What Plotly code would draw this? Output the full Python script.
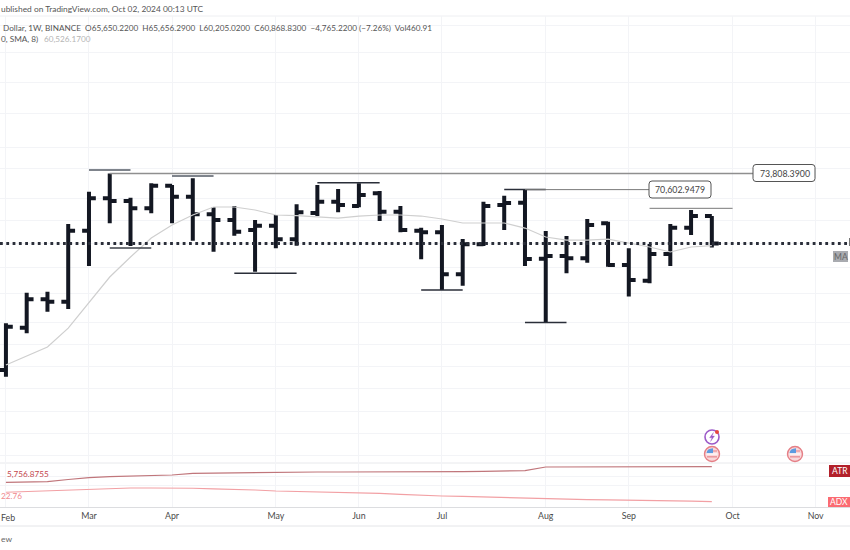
import math
import pandas as pd
import plotly.graph_objects as go

# ---- data ----
week_dates = [d.strftime("%Y-%m-%d") for d in pd.date_range("2024-01-29", periods=37, freq="7D")]
bar_dates = week_dates[:35]

opens = [42950, 48260, 52200, 51850, 63050, 68930, 68420, 67060, 71370, 69240,
         65960, 64930, 63170, 63920, 61570, 66200, 68290, 67500, 69890, 66440,
         63050, 62770, 55910, 60730, 67670, 68100, 58360, 58800, 58430, 64350,
         57360, 54930, 59130, 63570, 65650.22]
highs = [48850, 53150, 53300, 64220, 70200, 73808.39, 69050, 71840, 71510, 72830,
         67240, 67490, 64930, 65835, 67800, 71510, 70720, 71840, 70330, 67490,
         63570, 64050, 61640, 68290, 69430, 70602.95, 62995, 62135, 65110, 64630,
         60060, 60780, 64220, 66745, 65656.29]
lows = [42170, 47530, 50440, 50810, 57200, 64350, 60450, 66140, 64350, 61330,
        59500, 62190, 56310, 60060, 60500, 65650, 66330, 67240, 64750, 62770,
        58270, 53545, 54185, 60450, 63170, 57200, 49000, 56070, 57730, 57090,
        52590, 54550, 57200, 62310, 60205.02]
closes = [48400, 52190, 51850, 63050, 68930, 68420, 67060, 71370, 69240, 65960,
          64930, 62870, 63920, 61570, 66330, 68290, 67670, 69560, 66440, 63170,
          62770, 55910, 60730, 67490, 68050, 58315, 58800, 58430, 64050, 57360,
          55040, 59130, 63570, 65650, 60868.83]
sma8 = [43550, 44645, 45770, 48220, 51800, 55500, 58640, 61790, 64050, 65835,
        67300, 67300, 66745, 65835, 65710, 65480, 65290, 65650, 65835, 65835,
        65650, 65110, 64400, 64400, 64400, 63510, 61970, 61450, 61450, 61620,
        60950, 60280, 59460, 60280, 60526.17]
atr = [3760, 3800, 3837, 4119, 4349, 4477, 4567, 4631, 4695, 4912,
       4951, 4989, 5015, 5040, 5053, 5079, 5079, 5079, 5079, 5053,
       5040, 5079, 5117, 5168, 5207, 5245, 5719, 5719, 5757, 5757,
       5783, 5783, 5783, 5770, 5756.88]
adx = [36.9, 38.1, 39.3, 40.3, 41.4, 42.3, 43.3, 43.3, 43.3, 42.9,
       42.1, 41.4, 40.3, 38.8, 38.1, 37.5, 36.9, 36.3, 35.1, 33.6,
       32.1, 31.3, 30.6, 29.8, 28.8, 27.9, 26.8, 26.4, 26.0, 25.6,
       25.3, 24.7, 24.1, 23.5, 22.76]

# horizontal drawings: (price, first week index, last week index, width, colour)
level_prices = [74520, 73808.39, 73300, 60120, 56070, 71960, 70602.95, 70602.95, 53545, 48950, 67060]
level_starts = [4, 5, 8, 5, 11, 15, 24, 25, 20, 25, 31]
level_ends = [6, 36, 10, 7, 14, 18, 26, 31, 22, 27, 35]
level_widths = [1.5, 1.5, 1.5, 1.5, 1.5, 1.5, 1.5, 1, 1.5, 1.5, 1]
level_colors = ["#555b66", "#8f8f8f", "#555b66", "#3c4048", "#2a2e39", "#2a2e39",
                "#2a2e39", "#7a7a7a", "#2a2e39", "#2a2e39", "#7a7a7a"]

month_labels = ["", "Mar", "Apr", "May", "Jun", "Jul", "Aug", "Sep", "Oct", "Nov"]
month_weeks = [0, 4, 8, 13, 17, 21, 26, 30, 35, 39]
month_dates = [d.strftime("%Y-%m-%d") for d in
               pd.Timestamp("2024-01-29") + pd.to_timedelta([w * 7 for w in month_weeks], unit="D")]

grid_prices = [110800, 103140, 94960, 87190, 79390, 74730, 68900, 64930, 60950, 57050,
               53110, 49030, 46150, 43390, 40790, 38270, 36110, 33990]
atr_grid = [4567, 3415]

last_close = closes[-1]
x_span = ["2024-01-27", "2024-11-08 14:00"]

# ---- layout helpers (pixels of the 850x550 page) ----
W, H = 850, 550
def px(x): return x / W
def py(y): return 1 - y / H

def rounded(x0, y0, x1, y1, r):
    a, b, c, d = px(x0), py(y0), px(x1), py(y1)
    rx, ry = r / W, r / H
    return (f"M {a+rx} {b} L {c-rx} {b} Q {c} {b} {c} {b-ry} L {c} {d+ry} Q {c} {d} {c-rx} {d} "
            f"L {a+rx} {d} Q {a} {d} {a} {d+ry} L {a} {b-ry} Q {a} {b} {a+rx} {b} Z")

FONT = "Lato, Open Sans, sans-serif"
fig = go.Figure()

fig.add_trace(go.Scatter(x=bar_dates, y=sma8, mode="lines", xaxis="x", yaxis="y",
                         line=dict(color="#cfcfcf", width=1.2), showlegend=False, hoverinfo="skip"))

# last-close dotted line
fig.add_trace(go.Scatter(x=x_span, y=[last_close, last_close], mode="lines", xaxis="x", yaxis="y",
                         line=dict(color="#2a2e39", width=2.8, dash="2.8px,3.5px"),
                         showlegend=False, hoverinfo="skip"))

for p, s, e, w, c in zip(level_prices, level_starts, level_ends, level_widths, level_colors):
    fig.add_trace(go.Scatter(x=[week_dates[s], week_dates[e]], y=[p, p],
                             mode="lines", xaxis="x", yaxis="y", line=dict(color=c, width=w),
                             showlegend=False, hoverinfo="skip"))

fig.add_trace(go.Ohlc(x=bar_dates, open=opens, high=highs, low=lows, close=closes,
                      xaxis="x", yaxis="y", tickwidth=0.33,
                      increasing=dict(line=dict(color="#131722", width=4)),
                      decreasing=dict(line=dict(color="#131722", width=4)),
                      showlegend=False))

fig.add_trace(go.Scatter(x=bar_dates, y=atr, mode="lines", xaxis="x", yaxis="y2",
                         line=dict(color="#c0767b", width=1.2), showlegend=False, hoverinfo="skip"))
fig.add_trace(go.Scatter(x=bar_dates, y=adx, mode="lines", xaxis="x", yaxis="y3",
                         line=dict(color="#f2a0a4", width=1.2), showlegend=False, hoverinfo="skip"))

# main price scale: log, 73,808 sits at y=173.5 and each pixel is 0.2754 %
K = 0.002754
def price_at(y): return 73808.39 * math.exp(-(y - 173.5) * K)
main_range = [math.log10(price_at(463)), math.log10(price_at(16))]
atr_range = [5756.88 - 40.3 * 128, 5756.88 + 3.7 * 128]
adx_range = [22.76 - 5.3 * 1.5, 22.76 + 38.7 * 1.5]

GRID = "#f3f4f7"
layout = dict(
    width=W, height=H, autosize=False,
    margin=dict(l=0, r=0, t=0, b=0),
    paper_bgcolor="white", plot_bgcolor="white",
    font=dict(family=FONT, size=10, color="#444"),
    showlegend=False,
    hovermode=False,
    xaxis=dict(domain=[0, 1], anchor="y2", type="date",
               range=x_span,
               rangeslider=dict(visible=False),
               tickmode="array", tickvals=month_dates, ticktext=month_labels,
               showgrid=True, gridcolor=GRID, gridwidth=1,
               ticks="", showline=True, linecolor="#dcdde0", linewidth=1,
               tickfont=dict(family=FONT, size=8.8, color="#4a4a4a"), zeroline=False),
    yaxis=dict(domain=[py(463), py(16)], anchor="x", type="log", range=main_range,
               tickmode="array", tickvals=grid_prices, showticklabels=False,
               showgrid=True, gridcolor=GRID, gridwidth=1, ticks="", zeroline=False, showline=False),
    yaxis2=dict(domain=[py(507), py(463)], anchor="x", range=atr_range,
                tickmode="array", tickvals=atr_grid, showticklabels=False,
                showgrid=True, gridcolor=GRID, ticks="", zeroline=False, showline=False),
    yaxis3=dict(domain=[py(507), py(463)], anchor="x", overlaying="y2", range=adx_range,
                showticklabels=False, showgrid=False, ticks="", zeroline=False, showline=False),
)
fig.update_layout(**layout)

def T(x, y, text, size=10, color="#444", xanchor="left", **kw):
    fig.add_annotation(xref="paper", yref="paper", x=px(x), y=py(y), text=text, showarrow=False,
                       xanchor=xanchor, yanchor="middle", font=dict(family=FONT, size=size, color=color),
                       borderpad=0, **kw)

shapes = []
def rect(x0, y0, x1, y1, fill, line=None, lw=0, layer="above"):
    shapes.append(dict(type="rect", xref="paper", yref="paper", x0=px(x0), y0=py(y0), x1=px(x1), y1=py(y1),
                       fillcolor=fill, line=dict(color=line or fill, width=lw), layer=layer))
def circle(cx, cy, r, fill, line, lw):
    shapes.append(dict(type="circle", xref="paper", yref="paper", x0=px(cx - r), y0=py(cy + r),
                       x1=px(cx + r), y1=py(cy - r), fillcolor=fill, line=dict(color=line, width=lw)))
def path(d, fill, line, lw):
    shapes.append(dict(type="path", xref="paper", yref="paper", path=d, fillcolor=fill,
                       line=dict(color=line, width=lw)))

# horizontal separators
for yy, c in [(16, "#eeeff2"), (463, "#e8e9ec"), (526, "#e4e5e8")]:
    shapes.append(dict(type="line", xref="paper", yref="paper", x0=0, x1=1, y0=py(yy), y1=py(yy),
                       line=dict(color=c, width=1), layer="below"))

# price label boxes
path(rounded(753, 164.5, 815, 181.5, 3), "white", "#555", 1)
path(rounded(649, 181, 711, 198, 3), "white", "#555", 1)
# side tags
rect(833, 251, 848, 262, "#a9abb0")
rect(829, 465, 850, 477, "#b2202a")
rect(828, 497, 850, 507, "#fb6b72")
rect(849, 238, 850, 246, "#777")

# event icons
circle(712, 437, 7, "white", "#9c5ac8", 1.6)
path(f"M {px(713.5)} {py(432.5)} L {px(709.5)} {py(437.8)} L {px(712)} {py(437.8)} L {px(710.5)} {py(441.5)} "
     f"L {px(714.5)} {py(436)} L {px(712)} {py(436)} Z", "#9c5ac8", "#9c5ac8", 0.3)
circle(717, 432, 2, "#e8453c", "#e8453c", 0)
for fx in (712, 795):
    circle(fx, 454, 7.5, "#f9d8da", "#e57f86", 1.4)
    path(f"M {px(fx-5.5)} {py(453.2)} Q {px(fx-5)} {py(448.5)} {px(fx+1)} {py(448.3)} L {px(fx+1)} {py(453.2)} Z",
         "#5d9be0", "#5d9be0", 0)
    rect(fx - 5.5, 453.4, fx + 5.5, 454.6, "#ffffff")
    rect(fx + 1, 450.5, fx + 5, 451.5, "#e57f86")
    rect(fx - 5, 456.3, fx + 5, 457.4, "#e57f86")
fig.update_layout(shapes=shapes)

T(0, 9, "ublished on TradingView.com, Oct 02, 2024 00:13 UTC", 8.4, "#555")
T(2, 28, "Dollar, 1W, BINANCE&nbsp; O65,650.2200&nbsp; H65,656.2900&nbsp; L60,205.0200&nbsp; C60,868.8300&nbsp; "
         "−4,765.2200 (−7.26%)&nbsp; Vol460.91", 8.2, "#555")
T(0, 39.5, "0, SMA, 8)", 8.2, "#555")
T(43, 39.5, "60,526.1700", 8.2, "#b5b5b5")
T(785, 173, "73,808.3900", 8.8, "#444", xanchor="center")
T(680, 189.5, "70,602.9479", 8.8, "#444", xanchor="center")
T(840.5, 256.5, "MA", 8.5, "#666", xanchor="center")
T(839.5, 471, "ATR", 8.5, "#fff", xanchor="center")
T(839, 502, "ADX", 8.5, "#fff", xanchor="center")
T(6, 474, "5,756.8755", 8.2, "#c4474e")
T(0, 496, "22.76", 8.2, "#f0888d")
T(0, 517, "Feb", 8.8, "#4a4a4a")
T(0, 539, "ew", 8.4, "#666")

fig.write_html("out.html", post_script="document.body.style.margin='0';", config=dict(displayModeBar=False))
